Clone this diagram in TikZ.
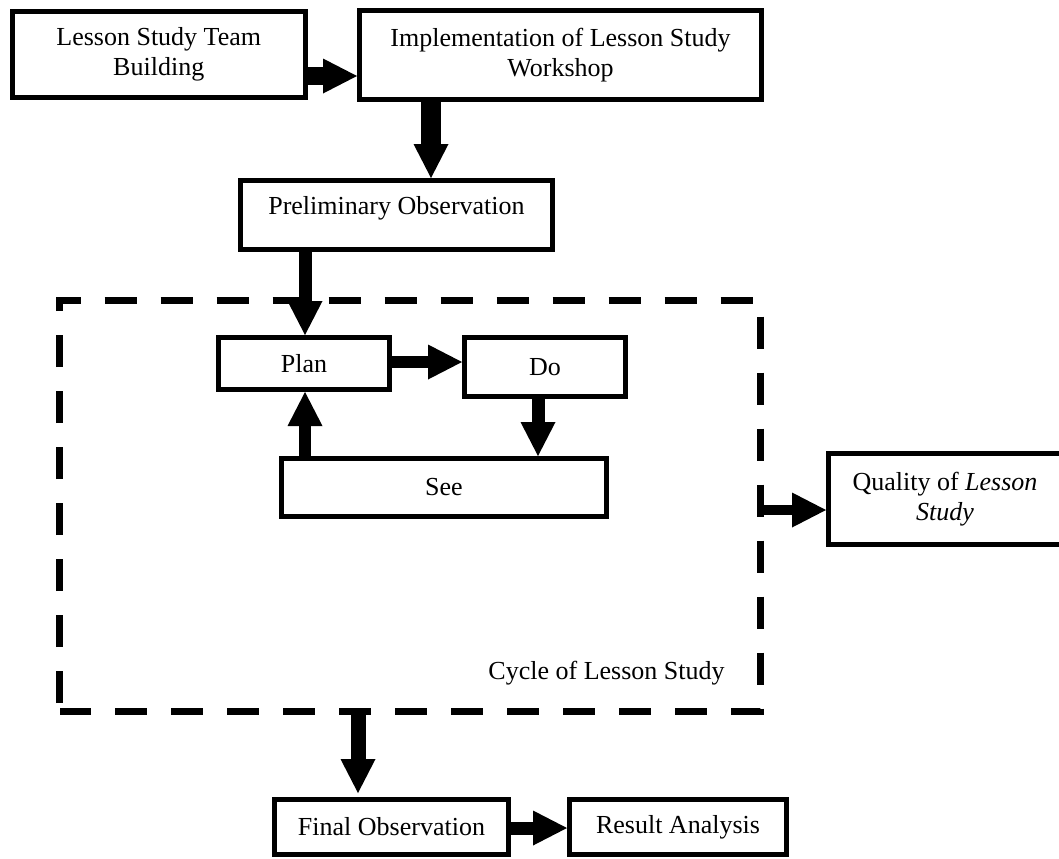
\documentclass[tikz,border=0pt]{standalone}
\usepackage{fontspec}
\setmainfont{Liberation Serif}
\usetikzlibrary{arrows.meta}
\begin{document}
\begin{tikzpicture}[x=0.5pt,y=-0.5pt,
  box/.style={draw, line width=2.5pt, inner sep=0pt, align=center, font=\fontsize{13}{15}\selectfont},
  lbl/.style={inner sep=0pt, font=\fontsize{13}{15}\selectfont},
  arr/.style={-{Triangle[length=17pt,width=17.5pt,line width=0pt]}},
  cyclebox/.style={line width=3.5pt, dash pattern=on 16pt off 12pt, dash phase=24pt},
]
\fill[white] (0,0) rectangle (1059,858);
\clip (0,0) rectangle (1059,858);

% boxes
\node[box, minimum width=146.75pt, minimum height=43pt] (A) at (158.75,54.5) {Lesson Study Team\\Building};
\node[box, minimum width=201pt, minimum height=44.5pt] (B) at (560.5,55) {Implementation of Lesson Study\\Workshop};
\node[box, minimum width=156pt, minimum height=34.5pt, text height=9pt, text depth=10pt] (C) at (396.5,215) {Preliminary Observation};
\node[box, minimum width=85.5pt, minimum height=26pt] (Plan) at (304,363.5) {Plan};
\node[box, minimum width=80.5pt, minimum height=29.5pt] (Do) at (545,367) {Do};
\node[box, minimum width=162.5pt, minimum height=29pt] (See) at (444,487.5) {See};
\node[box, minimum width=116.5pt, minimum height=45.5pt] (Q) at (945,499) {Quality of \textit{Lesson}\\\textit{Study}};
\node[box, minimum width=117pt, minimum height=27.5pt] (Final) at (391.5,827) {Final Observation};
\node[box, minimum width=108.5pt, minimum height=27.5pt] (Result) at (678,827) {Result Analysis};

% cycle frame
\draw[cyclebox] (59.5,711) -- (59.5,300) -- (760,300) -- (760,711) -- cycle;
\node[lbl] (cyc) at (606.5,673) {Cycle of Lesson Study};

% connectors
\draw[arr, line width=9pt] (A.east |- 0,76) -- (B.west |- 0,76);
\draw[arr, line width=10pt] (B.south -| 431,0) -- (C.north -| 431,0);
\draw[arr, line width=6.5pt] (C.south -| 305,0) -- (Plan.north -| 305,0);
\draw[arr, line width=6pt] (Plan.east |- 0,362) -- (Do.west |- 0,362);
\draw[arr, line width=6.5pt] (Do.south -| 538,0) -- (See.north -| 538,0);
\draw[arr, line width=6pt] (See.north -| 305,0) -- (Plan.south -| 305,0);
\coordinate (cycR) at (757,510);
\draw[arr, line width=5pt] (cycR) -- (Q.west |- cycR);
\coordinate (cycB) at (358,709);
\coordinate (finIn) at (358,793);
\draw[arr, line width=7.5pt] (cycB) -- (finIn);
\draw[arr, line width=6.5pt] (Final.east |- 0,828) -- (Result.west |- 0,828);
\end{tikzpicture}
\end{document}
